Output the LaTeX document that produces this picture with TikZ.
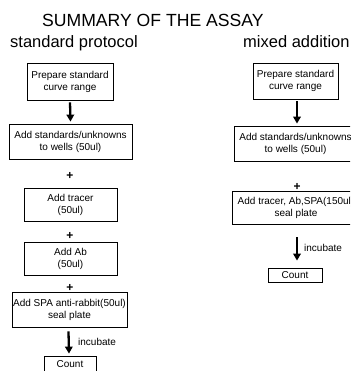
\documentclass[tikz,border=0pt]{standalone}
\usepackage{fontspec}
\setmainfont{Liberation Sans}
\usetikzlibrary{arrows.meta}
\begin{document}
\begin{tikzpicture}[x=1pt,y=-1pt,
  stepbox/.style={draw,line width=0.8pt,inner sep=0pt,align=center,font=\fontsize{10}{12}\selectfont,minimum width=#1},
  plus/.style={font=\fontsize{12}{12}\selectfont\bfseries,inner sep=0pt},
  flow/.style={line width=2.3pt,-{Triangle[width=7.5pt,length=7pt]}},
  lbl/.style={font=\fontsize{10}{12}\selectfont,inner sep=0pt,anchor=west}]
\useasboundingbox (0,0) rectangle (350,371);
\clip (0,0) rectangle (350,371);
\node[anchor=base west,inner sep=0pt,font=\fontsize{17.6}{20}\selectfont] (title) at (42,27) {SUMMARY OF THE ASSAY};
\node[anchor=base west,inner sep=0pt,font=\fontsize{16.5}{18}\selectfont] (sp) at (10,47.5) {standard protocol};
\node[anchor=base west,inner sep=0pt,font=\fontsize{16.5}{18}\selectfont] (ma) at (243,47.5) {mixed addition};
% left column
\node[stepbox=86pt,minimum height=37pt] (L1) at (70,81.5) {Prepare standard\\curve range};
\node[stepbox=123pt,minimum height=35pt] (L2) at (70.5,141.5) {Add standards/unknowns\\to wells (50ul)};
\node[plus] (p1) at (70,176) {+};
\node[stepbox=93pt,minimum height=33pt] (L3) at (70.5,204.5) {Add tracer\\(50ul)};
\node[plus] (p2) at (70,236) {+};
\node[stepbox=93pt,minimum height=33pt] (L4) at (70.5,258.5) {Add Ab\\(50ul)};
\node[plus] (p3) at (70,288) {+};
\node[stepbox=115pt,minimum height=35pt] (L5) at (69.5,309.5) {Add SPA anti-rabbit(50ul)\\seal plate};
\node[stepbox=52pt,minimum height=16pt] (L6) at (70,364) {Count};
\draw[flow] ([yshift=-2pt]L1.south) -- ([yshift=2pt]L2.north);
\draw[flow] ([xshift=-1pt,yshift=-4pt]L5.south) -- ([xshift=-1pt,yshift=2pt]L6.north);
\node[lbl] (inc1) at (78,342) {incubate};
% right column
\node[stepbox=85pt,minimum height=36pt] (R1) at (295.5,81) {Prepare standard\\curve range};
\node[stepbox=123pt,minimum height=35pt] (R2) at (295.5,143.5) {Add standards/unknowns\\to wells (50ul)};
\node[plus] (p4) at (297,187) {+};
\node[stepbox=128pt,minimum height=33pt] (R3) at (296,207.5) {Add tracer, Ab,SPA(150ul)\\seal plate};
\node[stepbox=54pt,minimum height=14pt] (R4) at (295,275) {Count};
\draw[flow] ([xshift=1.5pt,yshift=-2pt]R1.south) -- ([xshift=1.5pt,yshift=2pt]R2.north);
\draw[flow] ([xshift=1pt,yshift=-13pt]R3.south) -- ([xshift=2pt,yshift=7pt]R4.north);
\node[lbl] (inc2) at (304,248) {incubate};
\end{tikzpicture}
\end{document}
